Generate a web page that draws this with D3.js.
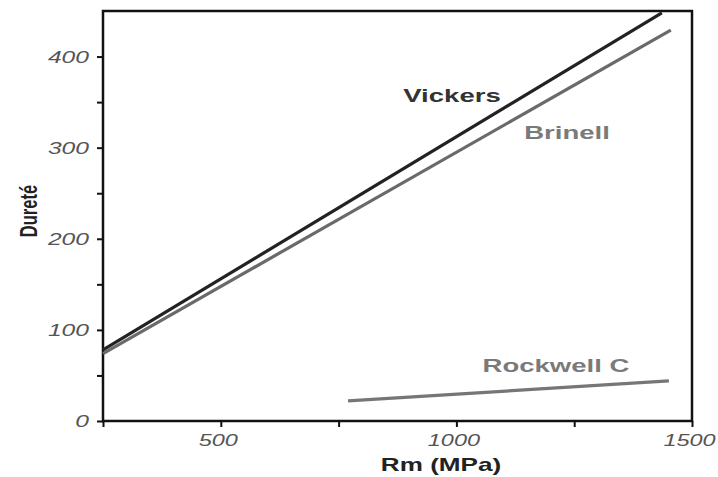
<!DOCTYPE html>
<html><head><meta charset="utf-8">
<script src="https://cdn.jsdelivr.net/npm/d3@7"></script>
<style>body{margin:0;background:#fff;}svg{display:block;}</style>
</head><body>
<svg id="c" width="718" height="477"></svg>
<script>
const seriesNames = ["Vickers", "Brinell", "Rockwell C"];
const vickersRm = [250, 1436];
const vickersH = [78, 448];
const brinellRm = [250, 1455];
const brinellH = [74, 429];
const rockwellRm = [770, 1451];
const rockwellH = [22, 44];
const xTicks = [500, 1000, 1500];
const xMinorTicks = [250, 750, 1250];
const yTicks = [0, 100, 200, 300, 400];
const yMinorTicks = [50, 150, 250, 350];

const svg = d3.select("#c");
const m = {l:103, t:11, r:692, b:421};
const x = d3.scaleLinear().domain([250,1500]).range([m.l, m.r]);
const y = d3.scaleLinear().domain([0,450]).range([m.b, m.t]);
const font = "'Liberation Sans', Arial, Helvetica, sans-serif";
const SX = 1.45; // horizontal stretch of the original artwork

function stretch(sel, shift){
  sel.each(function(){
    const t = d3.select(this);
    const xv = (+t.attr("x") || 0) + (shift || 0);
    t.attr("x", xv / SX).attr("transform", `scale(${SX},1)`);
  });
}

// frame
svg.append("rect").attr("x", m.l).attr("y", m.t).attr("width", m.r-m.l).attr("height", m.b-m.t)
  .attr("fill","none").attr("stroke","#111").attr("stroke-width",2.5);

// x axis
const xa = svg.append("g").attr("transform",`translate(0,${m.b})`)
  .call(d3.axisBottom(x).tickValues(xTicks).tickSize(6).tickPadding(8).tickFormat(d3.format("d")));
xa.select(".domain").remove();
xa.selectAll("line").attr("stroke","#111").attr("stroke-width",2);
xa.selectAll("text").attr("font-family",font).attr("font-style","italic").attr("font-size",16.2).attr("fill","#555")
  .each(function(){ stretch(d3.select(this), -3); });
const xm = svg.append("g").attr("transform",`translate(0,${m.b})`)
  .call(d3.axisBottom(x).tickValues(xMinorTicks).tickSize(6).tickFormat(""));
xm.select(".domain").remove();
xm.selectAll("line").attr("stroke","#111").attr("stroke-width",2);

// y axis
const ya = svg.append("g").attr("transform",`translate(${m.l},0)`)
  .call(d3.axisLeft(y).tickValues(yTicks).tickSize(6).tickPadding(8).tickFormat(d3.format("d")));
ya.select(".domain").remove();
ya.selectAll("line").attr("stroke","#111").attr("stroke-width",2);
ya.selectAll("text").attr("font-family",font).attr("font-style","italic").attr("font-size",17).attr("fill","#555").call(stretch, 0);
const ym = svg.append("g").attr("transform",`translate(${m.l},0)`)
  .call(d3.axisLeft(y).tickValues(yMinorTicks).tickSize(6).tickFormat(""));
ym.select(".domain").remove();
ym.selectAll("line").attr("stroke","#111").attr("stroke-width",2);

// titles
svg.append("text").attr("transform",`translate(441,471) scale(${SX},1)`).attr("text-anchor","middle")
  .attr("font-family",font).attr("font-weight","bold").attr("font-size",18).attr("fill","#222").text("Rm (MPa)");
svg.append("text").attr("transform",`translate(37,211) rotate(-90) scale(1,${SX})`).attr("text-anchor","middle")
  .attr("font-family",font).attr("font-weight","bold").attr("font-size",16.5).attr("fill","#222").text("Dureté");

// lines
const line = d3.line().x(d=>x(d[0])).y(d=>y(d[1]));
const series = [
  {name:seriesNames[1], rm:brinellRm, h:brinellH, color:"#6a6a6a", lx:567, ly:139},
  {name:seriesNames[0], rm:vickersRm, h:vickersH, color:"#222", lx:452, ly:102},
  {name:seriesNames[2], rm:rockwellRm, h:rockwellH, color:"#767676", lx:556, ly:372}
];
series.forEach(s=>{
  svg.append("path").datum(s.rm.map((r,i)=>[r,s.h[i]])).attr("d",line)
    .attr("fill","none").attr("stroke",s.color).attr("stroke-width",3.2);
  svg.append("text").attr("transform",`translate(${s.lx},${s.ly}) scale(${SX},1)`).attr("text-anchor","middle")
    .attr("font-family",font).attr("font-weight","bold").attr("font-size",19)
    .attr("fill", s.name==="Vickers" ? "#333" : "#7a7a7a").text(s.name);
});
</script>
</body></html>
